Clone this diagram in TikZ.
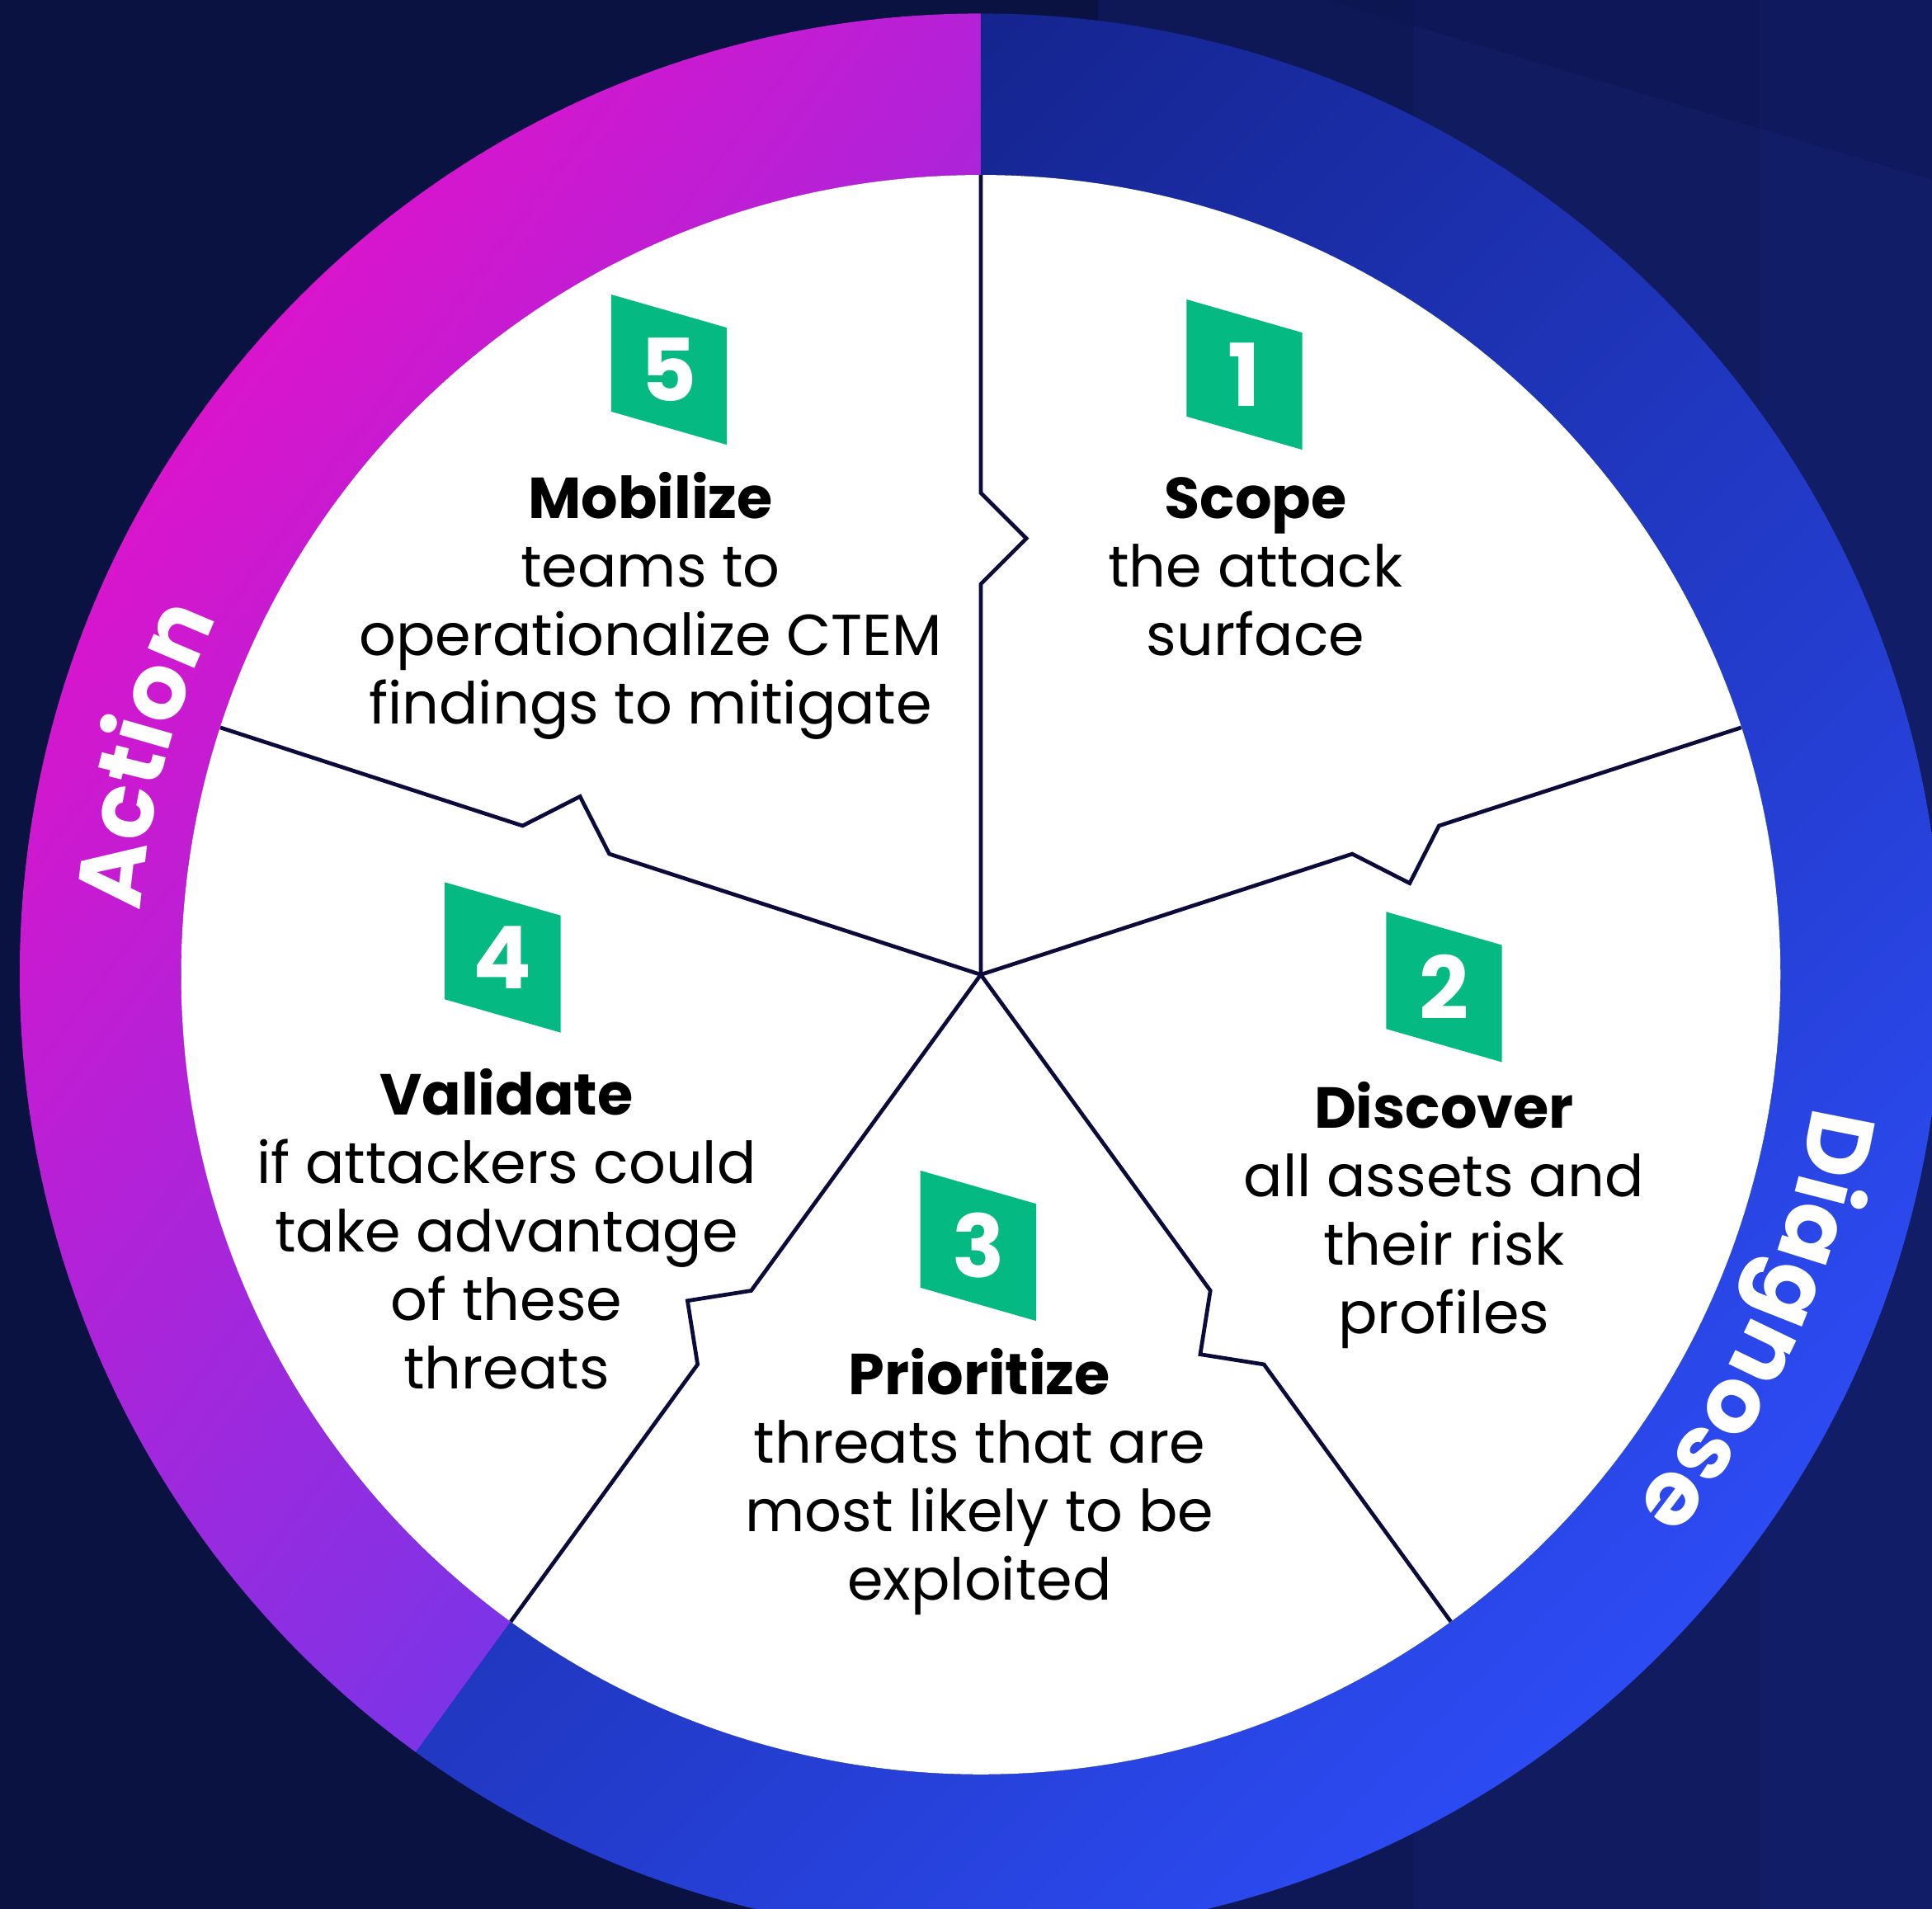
\documentclass[tikz,border=0pt]{standalone}
\usepackage{fontspec}
\setmainfont{Poppins}
\usetikzlibrary{positioning,decorations.text}

\definecolor{navybg}{HTML}{0A1242}
\definecolor{panelblue}{HTML}{2A40D0}
\definecolor{spokecol}{HTML}{0A0B3A}
\definecolor{badgegreen}{HTML}{04B982}
\definecolor{actiontop}{HTML}{E511C9}
\definecolor{actionbot}{HTML}{6A3AEC}
\definecolor{diagtop}{HTML}{14238C}
\definecolor{diagbot}{HTML}{2D4CF6}

\tikzset{
  spoke/.style={draw=spokecol, line width=0.9pt, line join=miter},
  badge/.style={fill=badgegreen},
  num/.style={text=white, font=\fontsize{20}{20}\selectfont\bfseries},
  steptext/.style={align=center, text=black, font=\fontsize{13.35}{15.8}\selectfont},
}

\begin{document}
\begin{tikzpicture}[x=0.01cm, y=0.01cm]
	\useasboundingbox (-796,-758) rectangle (772,791);
	\clip (-796,-758) rectangle (772,791);

	% background
	\fill[navybg] (-796,-758) rectangle (772,791);
	\begin{scope}[shift={(-796,791)}, yscale=-1]
		\fill[panelblue, opacity=0.15] (891,0) rectangle (1568,1549);
		\fill[panelblue, opacity=0.08] (1147,0) rectangle (1568,1549);
		\fill[panelblue, opacity=0.08] (1428,0) rectangle (1568,1549);
		\fill[navybg, opacity=0.25] (1077,0) -- (1568,0) -- (1568,146) -- cycle;
	\end{scope}

	% ring
	\shade[top color=actiontop, bottom color=actionbot, shading angle=53]
		(90:780) arc[start angle=90, end angle=234, radius=780]
		-- (234:649) arc[start angle=234, end angle=90, radius=649] -- cycle;
	\shade[top color=diagtop, bottom color=diagbot, shading angle=45]
		(90:780) arc[start angle=90, end angle=-126, radius=780]
		-- (-126:649) arc[start angle=-126, end angle=90, radius=649] -- cycle;
	\fill[white] (0,0) circle (649);

	% ring labels
	\path[decorate, decoration={text along path, text align=center,
		text={|\color{white}\fontsize{21}{21}\selectfont\bfseries|Action}}]
		(200:684) arc[start angle=200, end angle=130.6, radius=684];
	\path[decorate, decoration={text along path, text align=center,
		text={|\color{white}\fontsize{21}{21}\selectfont\bfseries|Diagnose}}]
		(11:684) arc[start angle=11, end angle=-59, radius=684];

	% spokes
	\foreach \a in {90,18,-54,-126,162}
		\draw[spoke, rotate=\a] (0,0) -- (317,0) -- (354,-37) -- (391,0) -- (649,0);

	% badges
	\foreach \bx/\by/\n in {214/487/1, 376/-10/2, -2/-220/3, -388/14/4, -253/491/5}{
		\fill[badge] (\bx-47,\by+61) -- ++(94,-27) -- ++(0,-95) -- ++(-94,27) -- cycle;
		\node[num] (b\n) at (\bx,\by) {\n};
	}

	% step texts
	\node[steptext] (t1) at (223,331) {\textbf{Scope}\\the attack\\surface};
	\node[steptext] (t2) at (376,-195.5) {\textbf{Discover}\\all assets and\\their risk\\profiles};
	\node[steptext] (t3) at (-1,-411.5) {\textbf{Prioritize}\\threats that are\\most likely to be\\exploited};
	\node[steptext] (t4) at (-385,-206.5) {\textbf{Validate}\\if attackers could\\take advantage\\of these\\threats};
	\node[steptext] (t5) at (-268,299.5) {\textbf{Mobilize}\\teams to\\operationalize CTEM\\findings to mitigate};
\end{tikzpicture}
\end{document}
